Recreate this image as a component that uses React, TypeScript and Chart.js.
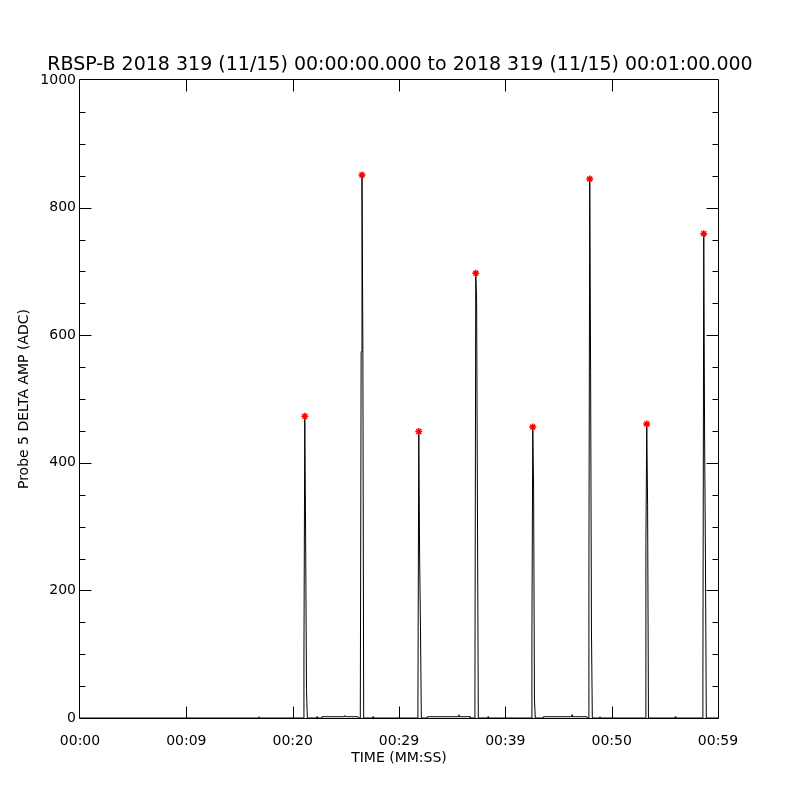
import React, { useEffect, useRef } from "react";
import { Chart, registerables } from "chart.js";

Chart.register(...registerables);

const titleText = "RBSP-B 2018 319 (11/15) 00:00:00.000 to 2018 319 (11/15) 00:01:00.000";
const xAxisTitle = "TIME (MM:SS)";
const yAxisTitle = "Probe 5 DELTA AMP (ADC)";

const xTickLabels = ["00:00", "00:09", "00:20", "00:29", "00:39", "00:50", "00:59"];
const xMin = 0;
const xMax = 60;
const xStep = 10;
const yMin = 0;
const yMax = 1000;
const yStep = 200;
const yMinorStep = 50;

// Probe 5 delta amplitude samples (seconds after 00:00:00, ADC)
const timeSec = [
  0, 16.78, 16.83, 16.88,
  21.0, 21.06, 21.14, 21.22, 21.3, 21.38,
  22.24, 22.29, 22.34,
  22.73, 22.75, 24.83, 24.92, 25.02, 26.14, 26.2,
  26.36, 26.44, 26.52, 26.6, 26.68,
  27.51, 27.56, 27.61,
  31.72, 31.78, 31.86, 31.94, 32.02, 32.1,
  32.63, 32.66, 35.6, 35.64, 35.68, 36.68, 36.72,
  37.08, 37.14, 37.22, 37.3, 37.38, 37.46,
  38.32, 38.37, 38.42,
  42.44, 42.5, 42.58, 42.66, 42.74, 42.82,
  43.54, 43.57, 46.23, 46.27, 46.31, 47.68, 47.72,
  47.8, 47.86, 47.94, 48.02, 48.1, 48.18,
  48.85, 48.9, 48.95,
  53.16, 53.22, 53.3, 53.38, 53.46,
  55.93, 55.98, 56.03,
  58.52, 58.58, 58.66, 58.74, 58.82, 58.9,
  60,
];
const ampAdc = [
  0, 0, 2, 0,
  0, 99, 473, 284, 45, 0,
  0, 2, 0,
  0, 2, 2, 4, 2, 2, 0,
  0, 574, 851, 590, 0,
  0, 2, 0,
  0, 25, 449, 251, 143, 0,
  0, 2, 2, 5, 2, 2, 0,
  0, 39, 697, 655, 318, 0,
  0, 2, 0,
  0, 130, 456, 359, 28, 0,
  0, 2, 2, 5, 2, 2, 0,
  0, 229, 845, 542, 138, 0,
  0, 2, 0,
  0, 273, 461, 335, 0,
  0, 2, 0,
  0, 63, 759, 442, 251, 0,
  0,
];

// Peak markers (red asterisks)
const peakTimes = [21.14, 26.52, 31.86, 37.22, 42.58, 47.94, 53.3, 58.66];
const peakValues = [473, 851, 449, 697, 456, 845, 461, 759];

const framePlugin = {
  id: "idlFrame",
  afterDatasetsDraw(chart: any) {
    const { ctx, chartArea: a, scales } = chart;
    const xs = scales.x;
    const ys = scales.y;
    const L = a.left - 0.5;
    const R = a.right + 0.5;
    const T = a.top - 0.5;
    const B = a.bottom + 0.5;
    ctx.save();
    ctx.strokeStyle = "#000";
    ctx.lineWidth = 1;
    ctx.beginPath();
    ctx.rect(L, T, R - L, B - T);
    for (let v = yMin + yMinorStep; v < yMax; v += yMinorStep) {
      const len = v % yStep === 0 ? 12 : 6;
      const py = Math.round(ys.getPixelForValue(v)) + 0.5;
      ctx.moveTo(L, py);
      ctx.lineTo(L + len, py);
      ctx.moveTo(R, py);
      ctx.lineTo(R - len, py);
    }
    for (let v = xMin + xStep; v < xMax; v += xStep) {
      const px = Math.round(xs.getPixelForValue(v)) + 0.5;
      ctx.moveTo(px, B);
      ctx.lineTo(px, B - 12);
      ctx.moveTo(px, T);
      ctx.lineTo(px, T + 12);
    }
    ctx.stroke();
    ctx.restore();
  },
};

export default function App() {
  const ref = useRef<HTMLCanvasElement | null>(null);
  useEffect(() => {
    if (!ref.current) return;
    Chart.defaults.font.family = "'DejaVu Sans'";
    Chart.defaults.color = "#000";
    const lineData = timeSec.map((t, i) => ({ x: t, y: ampAdc[i] }));
    const peakData = peakTimes.map((t, i) => ({ x: t, y: peakValues[i] }));
    const chart = new Chart(ref.current, {
      type: "line",
      data: {
        datasets: [
          {
            label: "peaks",
            data: peakData,
            showLine: false,
            pointStyle: "star",
            pointRadius: 3.5,
            pointBorderColor: "#ff0000",
            pointBackgroundColor: "#ff0000",
            pointBorderWidth: 1.5,
            order: 0,
          },
          {
            label: "amp",
            data: lineData,
            borderColor: "#000",
            borderWidth: 1,
            pointRadius: 0,
            tension: 0,
            fill: false,
            order: 1,
          },
        ],
      },
      options: {
        animation: false,
        responsive: false,
        maintainAspectRatio: false,
        devicePixelRatio: 1,
        layout: { padding: 0 },
        plugins: {
          legend: { display: false },
          tooltip: { enabled: false },
          title: {
            display: true,
            text: titleText,
            color: "#000",
            font: { size: 19, weight: "normal", family: "'DejaVu Sans'" },
            padding: { top: 53.6, bottom: 3.6 },
          },
        },
        scales: {
          x: {
            type: "linear",
            position: "bottom",
            min: xMin,
            max: xMax,
            grid: { display: false, drawTicks: false },
            border: { display: false },
            ticks: {
              stepSize: xStep,
              padding: 15,
              maxRotation: 0,
              autoSkip: false,
              color: "#000",
              font: { size: 14 },
              callback: (v: any) => xTickLabels[Math.round((Number(v) - xMin) / xStep)] ?? "",
            },
            title: {
              display: true,
              text: xAxisTitle,
              color: "#000",
              font: { size: 14 },
              padding: { top: 0, bottom: 33.6 },
            },
            afterFit: (s: any) => {
              s.height = 82;
            },
          },
          y: {
            type: "linear",
            position: "left",
            min: yMin,
            max: yMax,
            grid: { display: false, drawTicks: false },
            border: { display: false },
            ticks: {
              stepSize: yStep,
              padding: 4,
              color: "#000",
              font: { size: 14 },
              callback: (v: any) => String(v),
            },
            title: {
              display: true,
              text: yAxisTitle,
              color: "#000",
              font: { size: 14 },
              padding: { top: 15.6, bottom: 0 },
            },
            afterFit: (s: any) => {
              s.width = 80;
            },
          },
          yRight: {
            type: "linear",
            position: "right",
            min: yMin,
            max: yMax,
            grid: { display: false, drawTicks: false },
            border: { display: false },
            ticks: { display: false },
            afterFit: (s: any) => {
              s.width = 82;
            },
          },
        },
      },
      plugins: [framePlugin],
    });
    return () => chart.destroy();
  }, []);
  return (
    <canvas
      ref={ref}
      width={800}
      height={800}
      style={{ position: "fixed", left: 0, top: 0, width: 800, height: 800, background: "#fff" }}
    />
  );
}
